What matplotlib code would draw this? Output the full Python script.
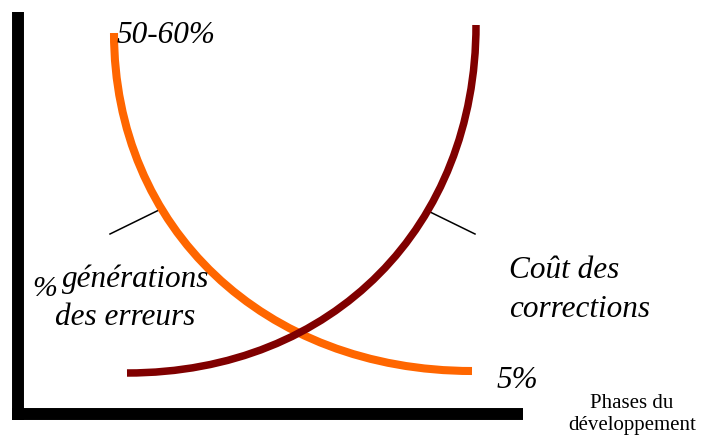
import matplotlib
matplotlib.use("Agg")
import matplotlib.pyplot as plt
from matplotlib.path import Path
from matplotlib.patches import PathPatch

# curves read off the picture as cubic Bezier nodes (pixel positions, y downwards):
# start, handle 1, handle 2, end
err_curve_x = [114, 114, 264, 472]
err_curve_y = [33, 228, 371, 371]

cost_curve_x = [127, 334, 476, 476]
cost_curve_y = [373, 373, 225, 25]

err_lead_x = [110, 159]
err_lead_y = [234, 210]
cost_lead_x = [426, 475]
cost_lead_y = [210, 234]

plt.rcParams['font.family'] = ['Liberation Serif', 'DejaVu Serif']

fig = plt.figure(figsize=(7.03, 4.38), dpi=100)
ax = fig.add_axes([0, 0, 1, 1])
ax.set_xlim(0, 703)
ax.set_ylim(438, 0)
ax.axis('off')

# the two thick black axes
ax.plot([18, 18], [12, 420], color='black', lw=8.6, solid_capstyle='butt')
ax.plot([12, 523], [414, 414], color='black', lw=8.6, solid_capstyle='butt')


def bezier(xs, ys, color, lw, z):
    codes = [Path.MOVETO, Path.CURVE4, Path.CURVE4, Path.CURVE4]
    p = Path(list(zip(xs, ys)), codes)
    ax.add_patch(PathPatch(p, facecolor='none', edgecolor=color, lw=lw,
                           capstyle='butt', zorder=z))


bezier(err_curve_x, err_curve_y, '#FF6600', 5.8, 3)
bezier(cost_curve_x, cost_curve_y, '#800000', 5.4, 4)

ax.plot(err_lead_x, err_lead_y, color='black', lw=1.1)
ax.plot(cost_lead_x, cost_lead_y, color='black', lw=1.1)

it = dict(style='italic', fontsize=22.5, va='baseline', ha='left')
ax.text(117, 43, '50-60%', **it)
ax.text(497, 388, '5%', **it)
ax.text(32, 296, '%', style='italic', fontsize=21.5, va='baseline', ha='left')
ax.text(62, 287, 'générations', **it)
ax.text(55, 325, 'des erreurs', **it)
ax.text(509, 278, 'Coût des', **it)
ax.text(509, 317, 'corrections', **it)

ax.text(632, 408, 'Phases du', fontsize=15, va='baseline', ha='center')
ax.text(632, 430, 'développement', fontsize=15, va='baseline', ha='center')

fig.savefig('out.png', dpi=100)
